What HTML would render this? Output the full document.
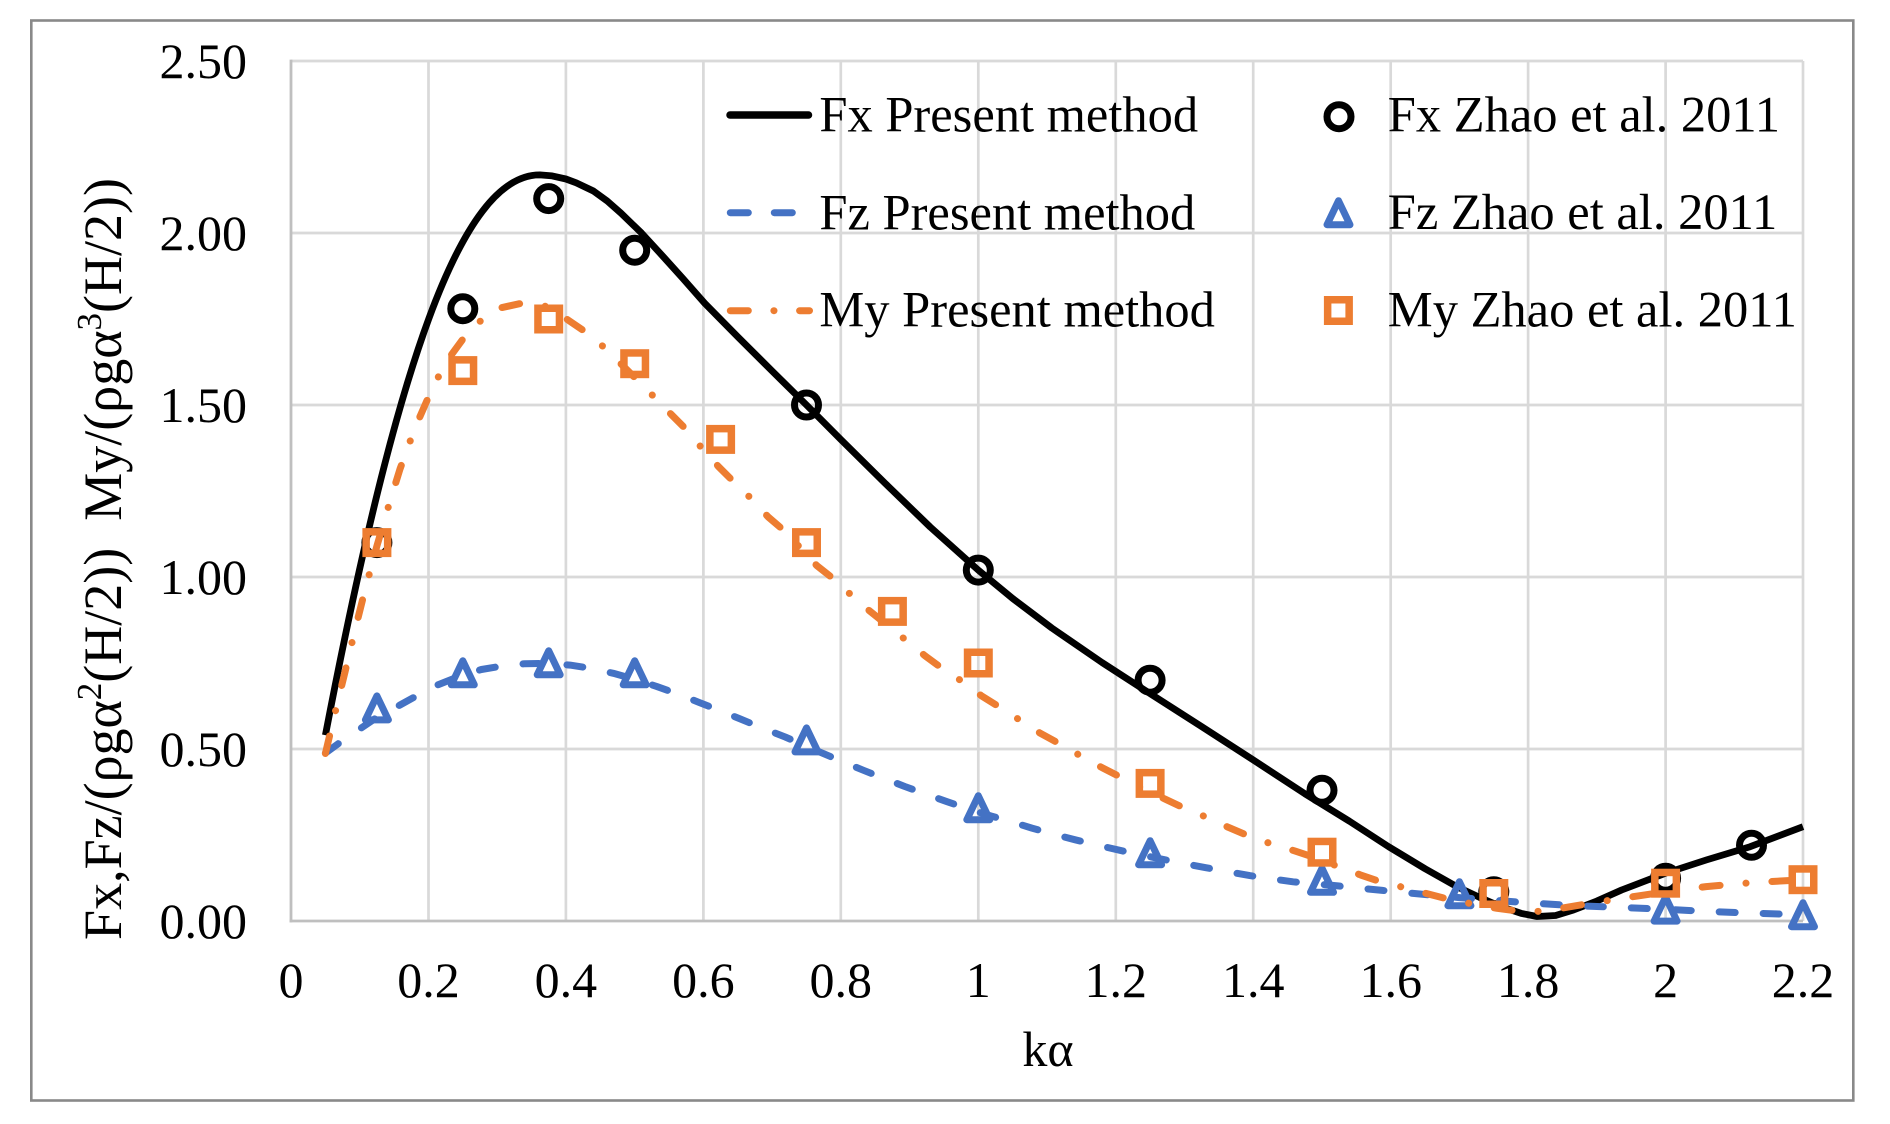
<!DOCTYPE html>
<html>
<head>
<meta charset="utf-8">
<style>
  html, body { margin: 0; padding: 0; background: #ffffff; }
  svg { display: block; }
  text { font-family: "Liberation Serif", "DejaVu Serif", serif; fill: #000; }
</style>
</head>
<body>
<svg width="1890" height="1124" viewBox="0 0 1890 1124" xmlns="http://www.w3.org/2000/svg">
  <defs>
    <circle id="circ" cx="0" cy="0" r="12" fill="none" stroke="#000" stroke-width="7"/>
    <polygon id="tri" points="0,-12.5 11.5,11.5 -11.5,11.5" fill="none" stroke="#4472C4" stroke-width="7" stroke-linejoin="round"/>
    <rect id="sq" x="-10.75" y="-10.75" width="21.5" height="21.5" fill="none" stroke="#ED7D31" stroke-width="7.5"/>
  </defs>

  <rect x="0" y="0" width="1890" height="1124" fill="#fff"/>
  <!-- outer border -->
  <rect x="31.3" y="20.5" width="1822" height="1080" fill="none" stroke="#898989" stroke-width="2.6"/>

  <!-- gridlines -->
  <g stroke="#D9D9D9" stroke-width="2.7">
    <line x1="291" y1="61" x2="1803" y2="61"/>
    <line x1="291" y1="233" x2="1803" y2="233"/>
    <line x1="291" y1="405" x2="1803" y2="405"/>
    <line x1="291" y1="577" x2="1803" y2="577"/>
    <line x1="291" y1="749" x2="1803" y2="749"/>
    <line x1="428.5" y1="61" x2="428.5" y2="921"/>
    <line x1="565.9" y1="61" x2="565.9" y2="921"/>
    <line x1="703.4" y1="61" x2="703.4" y2="921"/>
    <line x1="840.8" y1="61" x2="840.8" y2="921"/>
    <line x1="978.3" y1="61" x2="978.3" y2="921"/>
    <line x1="1115.8" y1="61" x2="1115.8" y2="921"/>
    <line x1="1253.2" y1="61" x2="1253.2" y2="921"/>
    <line x1="1390.7" y1="61" x2="1390.7" y2="921"/>
    <line x1="1528.1" y1="61" x2="1528.1" y2="921"/>
    <line x1="1665.6" y1="61" x2="1665.6" y2="921"/>
    <line x1="1803" y1="61" x2="1803" y2="921"/>
  </g>
  <!-- axes -->
  <g stroke="#BFBFBF" stroke-width="2.8">
    <line x1="291" y1="59.6" x2="291" y2="922.4"/>
    <line x1="289.6" y1="921" x2="1803" y2="921"/>
  </g>

  <!-- y tick labels -->
  <g font-size="50" text-anchor="end">
    <text x="247" y="77.8">2.50</text>
    <text x="247" y="249.8">2.00</text>
    <text x="247" y="421.8">1.50</text>
    <text x="247" y="593.8">1.00</text>
    <text x="247" y="765.8">0.50</text>
    <text x="247" y="937.8">0.00</text>
  </g>
  <!-- x tick labels -->
  <g font-size="50" text-anchor="middle">
    <text x="291" y="997">0</text>
    <text x="428.5" y="997">0.2</text>
    <text x="565.9" y="997">0.4</text>
    <text x="703.4" y="997">0.6</text>
    <text x="840.8" y="997">0.8</text>
    <text x="978.3" y="997">1</text>
    <text x="1115.8" y="997">1.2</text>
    <text x="1253.2" y="997">1.4</text>
    <text x="1390.7" y="997">1.6</text>
    <text x="1528.1" y="997">1.8</text>
    <text x="1665.6" y="997">2</text>
    <text x="1803" y="997">2.2</text>
  </g>

  <!-- axis titles -->
  <text x="1048" y="1066" font-size="50" text-anchor="middle">kα</text>
  <text transform="translate(121,559) rotate(-90)" font-size="54" text-anchor="middle" xml:space="preserve">Fx,Fz/(ρgα<tspan font-size="35" dy="-20">2</tspan><tspan dy="20">(H/2))  My/(ρgα</tspan><tspan font-size="35" dy="-20">3</tspan><tspan dy="20">(H/2))</tspan></text>

  <!-- Fx present (solid black) -->
  <path fill="none" stroke="#000" stroke-width="6.8" stroke-linejoin="round" stroke-linecap="butt"
    d="M325.4,735.2 C395.4,371.2 459.8,174.9 539.8,174.9 L552.2,175.9 565.9,179 576.2,182.8 593.4,191 607.2,201 620.9,213.1 641.5,233 662.1,255.4 682.8,278.4 704.7,303.2 737.7,336.8 772.1,371 806.5,405 840.8,439.5 884.8,483 930.2,527 978.3,570.1 1012.7,598.5 1051.8,628 1102,662.5 1151.5,694.5 1201.7,726.6 1251.8,759 1304.8,793.7 1349.4,821.2 1388.6,846.7 1425,868.7 1456.7,886.6 1480,897.6 1501,906.6 1521.3,913.4 1537.1,916.5 1555.6,915.5 1573.5,910 1596.9,901 1621.6,890 1665.6,873.2 1706.8,859.8 1750.1,846.7 1803,826.7"/>
  <!-- Fx Zhao circles -->
  <g>
    <use href="#circ" x="376.9" y="542.6"/>
    <use href="#circ" x="462.8" y="308.7"/>
    <use href="#circ" x="548.7" y="198.6"/>
    <use href="#circ" x="634.7" y="250.2"/>
    <use href="#circ" x="806.5" y="405"/>
    <use href="#circ" x="978.3" y="570.1"/>
    <use href="#circ" x="1150.1" y="680.2"/>
    <use href="#circ" x="1322" y="790.3"/>
    <use href="#circ" x="1493.8" y="891.8"/>
    <use href="#circ" x="1665.6" y="878.3"/>
    <use href="#circ" x="1751.5" y="845.3"/>
  </g>

  <!-- Fz present (blue dashed) -->
  <polyline fill="none" stroke="#4472C4" stroke-width="7" stroke-linejoin="round" stroke-linecap="round" stroke-dasharray="16 28"
    points="325.4,753.1 343.2,740.1 359.7,729 376.9,717.4 400,705 418.2,695 438.1,684.7 458,676.8 481.4,669.5 503.4,665.8 524.7,663.7 548,663.3 570,665.1 591.7,668.5 613.3,673.3 634.7,679.2 656.6,686.4 678.4,694.3 698.6,702.2 718.5,710.1 739.8,718.7 759.7,727 785.2,737 821.6,752.8 843.6,762.1 863.5,770.3 883.5,778.2 904.8,786.5 926.8,794.4 946.7,801.6 968,808.9 991.4,816.1 1011.7,821.9 1031.9,828.1 1053.9,834.3 1075.2,839.8 1096.5,845 1129.5,852.5 1163.2,859.4 1184.5,863.6 1205.8,867.7 1228.5,871.8 1249.8,875.6 1272.5,879 1293.1,881.8 1315.1,883.8 1337.8,885.9 1357.7,888 1382.4,890.4 1402.4,892.4 1459.4,897.6 1508.9,901.4 1531.3,903.1 1561.1,904.8 1583.1,905.9 1605.8,906.9 1625.7,907.6 1665.6,909.3 1693.8,910.7 1715.8,911.7 1739.1,912.7 1761.1,913.4 1803,914.8"/>
  <!-- Fz Zhao triangles -->
  <g>
    <use href="#tri" x="376.9" y="708.4"/>
    <use href="#tri" x="462.8" y="673.3"/>
    <use href="#tri" x="548.7" y="663.3"/>
    <use href="#tri" x="634.7" y="673.3"/>
    <use href="#tri" x="806.5" y="740.4"/>
    <use href="#tri" x="978.3" y="808.2"/>
    <use href="#tri" x="1150.1" y="853.2"/>
    <use href="#tri" x="1322" y="880.8"/>
    <use href="#tri" x="1459.4" y="894.2"/>
    <use href="#tri" x="1665.6" y="909.6"/>
    <use href="#tri" x="1803" y="915.2"/>
  </g>

  <!-- My present (orange dash-dot) -->
  <polyline fill="none" stroke="#ED7D31" stroke-width="7" stroke-linejoin="round" stroke-linecap="round" stroke-dasharray="18 26 0.1 25.9"
    points="325.4,753.5 335,713 345,672 355,630 365,590 376.9,546 388.6,506 400,469 411.3,438 420.2,416 428.5,397 438.8,376 449.8,357 463.5,338.3 481.4,320 499.9,308 521.9,303.2 538.4,303.9 552.2,308.7 566.6,319 585.2,331.7 604.4,347.6 627.8,370.6 653.9,396.7 671.8,415 686.9,430.1 702,448.3 718.5,466.6 733.6,481.7 750.8,498.2 768,516.8 785.2,531.6 816.8,565.6 834.7,579.8 851.8,595.6 867.6,609.3 906.1,640.3 925,655.8 943.2,669.2 962.5,681.6 981.7,696 1001.7,708.4 1020.9,720.8 1040.2,733.2 1060.8,744.5 1080.7,755.9 1102,767.6 1122.6,778.2 1143.3,788.9 1165.3,799.2 1184.5,808.2 1207.9,817.8 1228.5,827.4 1249.8,836.4 1272.5,844.3 1294.4,850.8 1312.3,856.7 1338.4,866.6 1360.4,874.9 1380.4,881.8 1404.4,887.6 1426.4,893.5 1445,898.3 1473.2,904.1 1496.9,908.3 1517.1,911 1543.2,911.4 1565.2,907.6 1587.2,903.8 1611.3,900 1638.1,895.9 1665.6,891.8 1706.1,886.6 1726,884.9 1750.1,882.8 1803,879.7"/>
  <!-- My Zhao squares -->
  <g>
    <use href="#sq" x="376.9" y="542.6"/>
    <use href="#sq" x="462.8" y="370.6"/>
    <use href="#sq" x="548.7" y="319"/>
    <use href="#sq" x="634.7" y="363.7"/>
    <use href="#sq" x="720.6" y="439.4"/>
    <use href="#sq" x="806.5" y="542.6"/>
    <use href="#sq" x="892.4" y="611.4"/>
    <use href="#sq" x="978.3" y="663"/>
    <use href="#sq" x="1150.1" y="783.4"/>
    <use href="#sq" x="1322" y="852.2"/>
    <use href="#sq" x="1493.8" y="893.5"/>
    <use href="#sq" x="1665.6" y="883.2"/>
    <use href="#sq" x="1803" y="879.7"/>
  </g>

  <!-- Legend -->
  <line x1="730" y1="115" x2="808.5" y2="115" stroke="#000" stroke-width="7.5" stroke-linecap="round"/>
  <g stroke="#4472C4" stroke-width="7" stroke-linecap="round">
    <line x1="730.3" y1="212.7" x2="748.3" y2="212.7"/>
    <line x1="774.3" y1="212.7" x2="792.3" y2="212.7"/>
  </g>
  <g stroke="#ED7D31" stroke-width="7" stroke-linecap="round">
    <line x1="730.3" y1="310.7" x2="748.3" y2="310.7"/>
    <line x1="773.9" y1="310.7" x2="774" y2="310.7"/>
    <line x1="799.6" y1="310.7" x2="809.5" y2="310.7"/>
  </g>
  <g font-size="50.5">
    <text x="819.4" y="131.7">Fx Present method</text>
    <text x="819.4" y="229.3">Fz Present method</text>
    <text x="819.4" y="326.7">My Present method</text>
    <text x="1387.8" y="131.7">Fx Zhao et al. 2011</text>
    <text x="1387.8" y="228.8">Fz Zhao et al. 2011</text>
    <text x="1387.8" y="326.7">My Zhao et al. 2011</text>
  </g>
  <use href="#circ" x="1339" y="116.7"/>
  <use href="#tri" x="1338.5" y="213.2"/>
  <use href="#sq" x="1338.4" y="310.5"/>
</svg>
</body>
</html>
